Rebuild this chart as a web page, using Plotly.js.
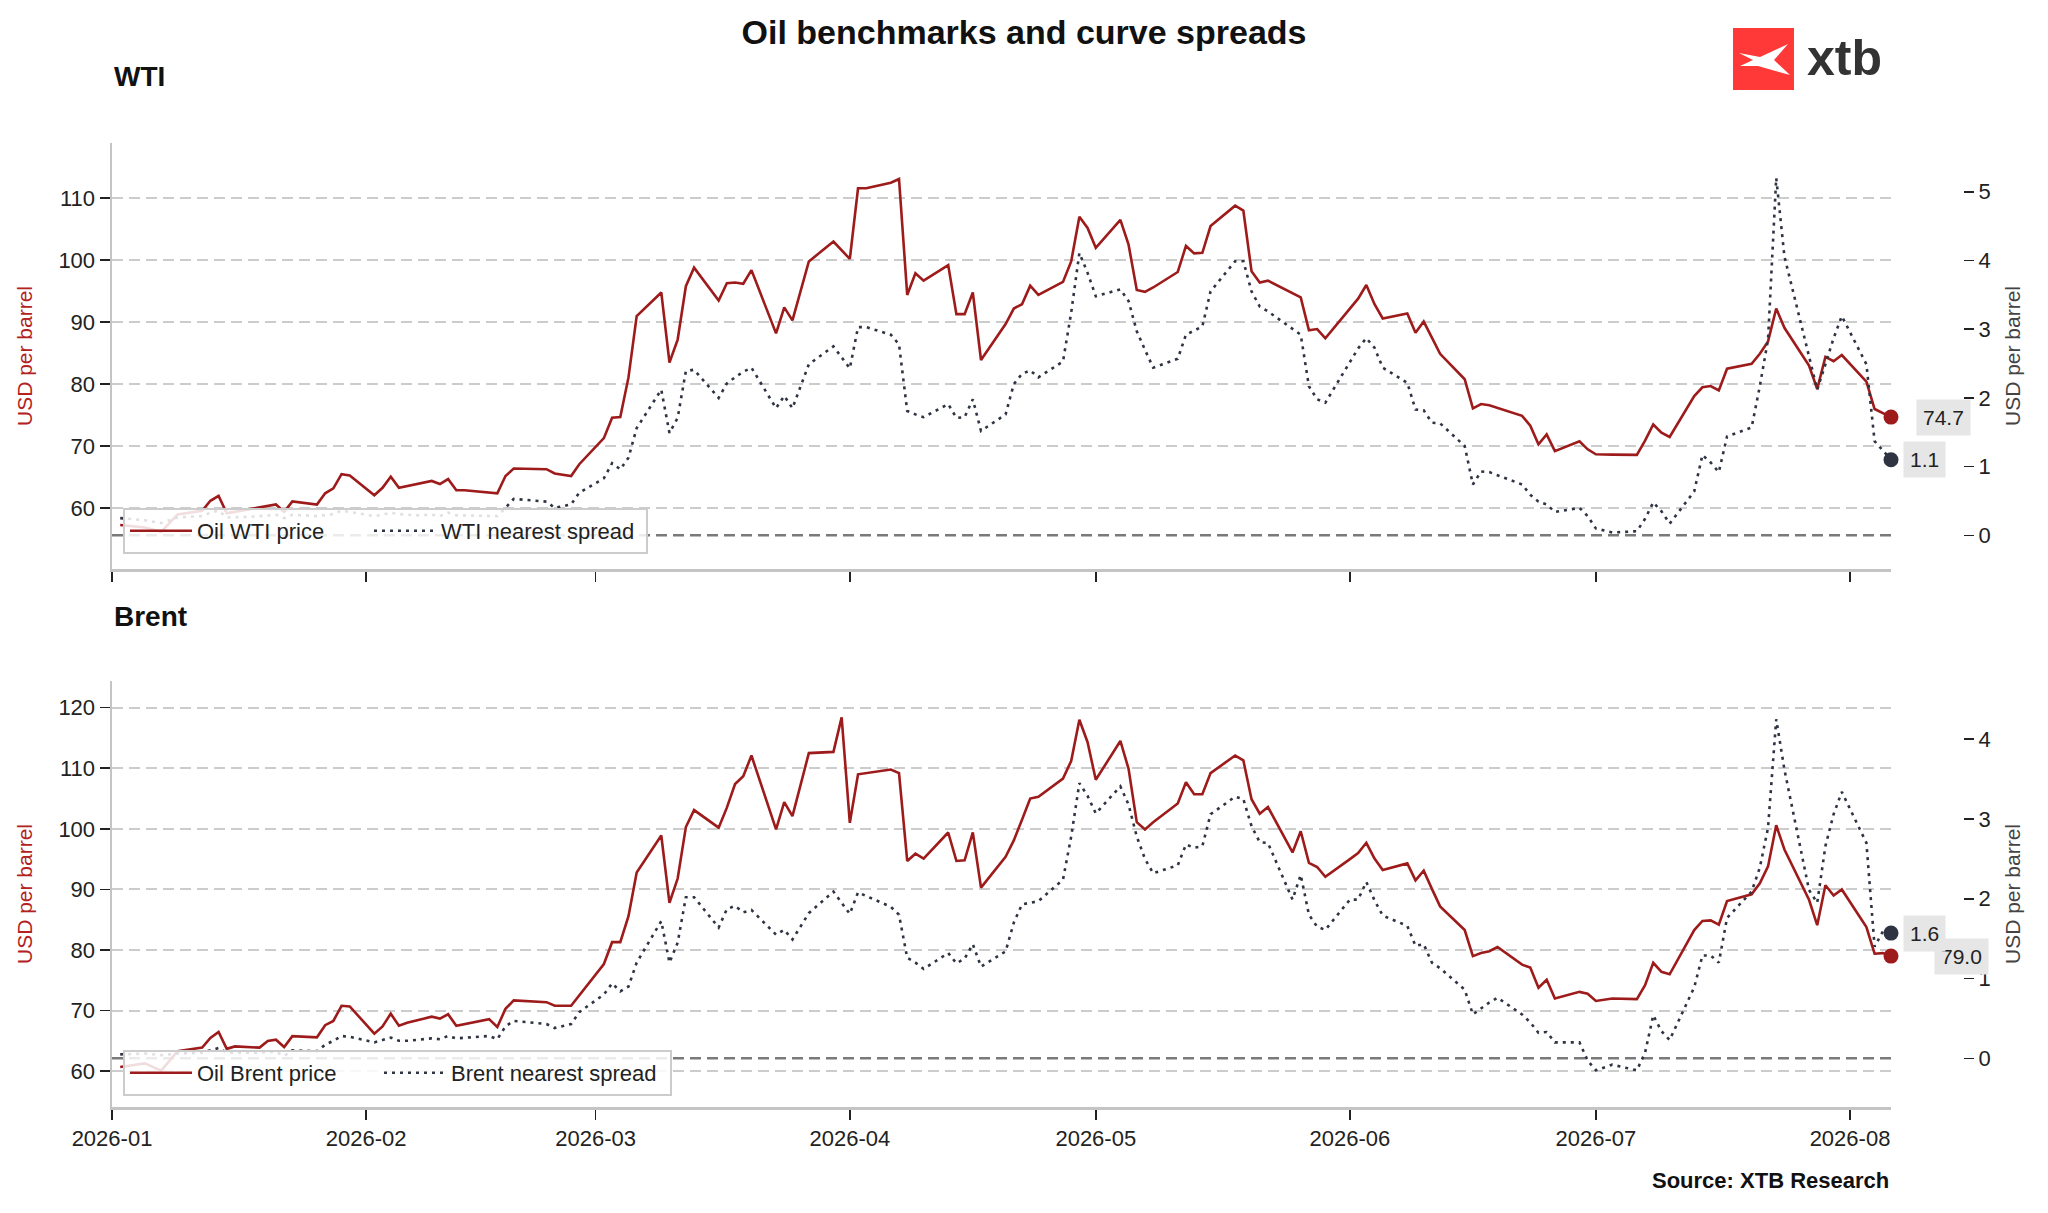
<!DOCTYPE html>
<html>
<head>
<meta charset="utf-8">
<script src="https://cdn.plot.ly/plotly-3.0.1.min.js"></script>
<style>
  html, body { margin: 0; padding: 0; background: #fff; }
  #chart { width: 2048px; height: 1213px; }
</style>
</head>
<body>
<div id="chart"></div>
<script>
// ---- data (2026, business days) ----
const wtiDays = [
  '01-02','01-05','01-07','01-09','01-12','01-13','01-14','01-15','01-18','01-21','01-22','01-23','01-26','01-27','01-28','01-29','01-30',
  '02-02','02-03','02-04','02-05','02-07','02-09','02-10','02-11','02-12','02-13','02-17','02-18','02-19','02-23','02-24','02-26','02-27',
  '03-02','03-03','03-04','03-05','03-06','03-09','03-10','03-11','03-12','03-13','03-16','03-17','03-18','03-19','03-20','03-23','03-24','03-25','03-27','03-30',
  '04-01','04-02','04-03','04-06','04-07','04-08','04-09','04-10','04-13','04-14','04-15','04-16','04-17','04-20','04-21','04-22','04-23','04-24','04-27','04-28','04-29','04-30',
  '05-01','05-04','05-05','05-06','05-07','05-08','05-11','05-12','05-13','05-14','05-15','05-18','05-19','05-20','05-21','05-22','05-26','05-27','05-28','05-29',
  '06-02','06-03','06-04','06-05','06-08','06-09','06-10','06-11','06-12','06-15','06-16','06-17','06-18','06-22','06-23','06-24','06-25','06-26','06-29','06-30',
  '07-01','07-03','07-06','07-07','07-08','07-09','07-10','07-13','07-14','07-15','07-16','07-17','07-20','07-21','07-22','07-23','07-24','07-27','07-28','07-29','07-30','07-31',
  '08-03','08-04','08-06'
]
const wtiPrice = [
  57.3,56.9,56.2,59.0,59.6,61.2,62.0,59.2,59.9,60.6,59.4,61.1,60.6,62.4,63.2,65.5,65.3,
  62.1,63.3,65.1,63.3,63.9,64.4,63.9,64.7,62.9,62.9,62.4,65.2,66.4,66.3,65.6,65.2,67.1,
  71.3,74.6,74.7,81.1,91.0,94.8,83.5,87.2,95.8,98.8,93.5,96.3,96.4,96.2,98.4,88.2,92.4,90.3,99.8,103.0,
  100.2,111.6,111.6,112.5,113.1,94.4,97.9,96.7,99.2,91.3,91.3,94.8,83.9,89.7,92.2,92.9,95.9,94.4,96.5,99.8,107.0,105.2,
  102.0,106.5,102.5,95.2,94.9,95.6,98.1,102.3,101.1,101.2,105.5,108.8,108.0,98.2,96.4,96.7,94.0,88.7,88.9,87.4,
  93.8,96.0,92.9,90.6,91.4,88.3,90.1,87.5,84.9,80.8,76.1,76.8,76.6,74.9,73.3,70.3,71.9,69.2,70.8,69.5,
  68.7,68.65,68.6,70.9,73.5,72.2,71.5,78.1,79.5,79.7,79.0,82.5,83.3,84.9,86.9,92.2,89.1,83.0,79.2,84.4,83.7,84.7,
  80.4,76.0,74.7
]
const wtiSpread = [
  0.25,0.22,0.18,0.26,0.28,0.33,0.36,0.26,0.27,0.30,0.25,0.30,0.28,0.30,0.31,0.36,0.34,
  0.28,0.30,0.33,0.31,0.29,0.30,0.28,0.33,0.29,0.29,0.28,0.40,0.53,0.49,0.40,0.45,0.62,
  0.83,1.05,0.96,1.13,1.56,2.12,1.49,1.71,2.39,2.41,2.00,2.21,2.30,2.38,2.44,1.85,2.03,1.85,2.49,2.75,
  2.43,3.03,3.03,2.92,2.78,1.81,1.76,1.72,1.91,1.71,1.72,1.98,1.52,1.76,2.20,2.35,2.40,2.30,2.53,3.24,4.11,3.82,
  3.48,3.58,3.41,2.97,2.70,2.44,2.57,2.92,2.98,3.04,3.55,3.99,3.99,3.55,3.33,3.26,2.92,2.17,1.98,1.93,
  2.72,2.87,2.73,2.44,2.22,1.83,1.82,1.64,1.63,1.30,0.74,0.93,0.92,0.74,0.59,0.49,0.45,0.34,0.40,0.28,
  0.10,0.04,0.06,0.24,0.48,0.35,0.17,0.64,1.17,1.06,0.92,1.44,1.57,2.17,2.85,5.20,4.06,2.58,2.12,2.49,2.87,3.19,
  2.49,1.37,1.10
]

const brentDays = [
  '01-02','01-05','01-07','01-09','01-12','01-13','01-14','01-15','01-16','01-19','01-20','01-21','01-22','01-23','01-26','01-27','01-28','01-29','01-30',
  '02-02','02-03','02-04','02-05','02-06','02-09','02-10','02-11','02-12','02-16','02-17','02-18','02-19','02-23','02-24','02-26','02-27',
  '03-02','03-03','03-04','03-05','03-06','03-09','03-10','03-11','03-12','03-13','03-16','03-17','03-18','03-19','03-20','03-23','03-24','03-25','03-27','03-30','03-31',
  '04-01','04-02','04-06','04-07','04-08','04-09','04-10','04-13','04-14','04-15','04-16','04-17','04-20','04-21','04-22','04-23','04-24','04-27','04-28','04-29','04-30',
  '05-01','05-04','05-05','05-06','05-07','05-08','05-11','05-12','05-13','05-14','05-15','05-18','05-19','05-20','05-21','05-22','05-25','05-26','05-27','05-28','05-29',
  '06-01','06-02','06-03','06-04','06-05','06-08','06-09','06-10','06-11','06-12','06-15','06-16','06-17','06-18','06-19','06-22','06-23','06-24','06-25','06-26','06-29','06-30',
  '07-01','07-03','07-06','07-07','07-08','07-09','07-10','07-13','07-14','07-15','07-16','07-17','07-20','07-21','07-22','07-23','07-24','07-27','07-28','07-29','07-30','07-31',
  '08-03','08-04','08-05','08-06'
]
const brentPrice = [
  60.7,61.3,60.1,63.3,63.9,65.5,66.5,63.7,64.1,63.9,65.0,65.2,64.0,65.8,65.6,67.6,68.3,70.8,70.7,
  66.2,67.4,69.5,67.5,68.0,69.0,68.7,69.4,67.5,68.6,67.3,70.3,71.7,71.4,70.8,70.8,72.5,
  77.7,81.3,81.3,85.6,92.8,98.9,87.8,91.8,100.3,103.1,100.2,103.5,107.4,108.7,112.1,99.9,104.4,102.1,112.5,112.7,118.4,
  101.0,109.0,109.8,109.2,94.7,95.9,95.1,99.4,94.7,94.8,99.4,90.3,95.4,98.1,101.5,105.0,105.3,108.3,111.2,118.0,114.3,
  108.1,114.5,109.9,101.1,99.9,101.1,104.2,107.7,105.7,105.7,109.2,112.1,111.3,104.9,102.5,103.6,96.1,99.6,94.4,93.7,92.1,
  95.0,96.0,97.7,95.1,93.2,94.3,91.5,93.1,90.1,87.2,83.3,79.0,79.5,79.8,80.5,77.6,77.1,73.8,75.1,72.0,73.1,72.8,
  71.6,72.0,71.9,74.2,77.9,76.4,76.0,83.3,84.8,84.9,84.2,88.1,89.2,91.0,93.8,100.6,96.6,88.3,84.1,90.7,89.0,90.0,
  83.8,79.4,79.5,79.0
]
const brentSpread = [
  0.05,0.06,0.04,0.06,0.07,0.10,0.13,0.07,0.07,0.07,0.08,0.08,0.03,0.10,0.09,0.17,0.22,0.28,0.27,
  0.20,0.23,0.26,0.22,0.22,0.25,0.24,0.28,0.25,0.28,0.24,0.40,0.47,0.43,0.38,0.43,0.58,
  0.80,0.94,0.84,0.90,1.20,1.72,1.20,1.45,2.02,2.02,1.64,1.87,1.91,1.83,1.86,1.55,1.61,1.49,1.82,2.09,1.95,
  1.81,2.08,1.90,1.80,1.26,1.20,1.12,1.32,1.19,1.25,1.43,1.15,1.34,1.70,1.93,1.95,1.97,2.24,2.78,3.45,3.29,
  3.07,3.41,3.18,2.78,2.50,2.32,2.42,2.68,2.64,2.66,3.06,3.28,3.25,2.91,2.71,2.70,1.99,2.30,1.80,1.65,1.61,
  1.99,1.99,2.21,1.98,1.79,1.66,1.41,1.43,1.20,1.13,0.86,0.55,0.63,0.70,0.76,0.55,0.45,0.32,0.33,0.20,0.20,-0.03,
  -0.15,-0.08,-0.15,0.07,0.54,0.34,0.23,0.89,1.29,1.29,1.20,1.76,2.09,2.39,2.89,4.25,3.62,2.11,1.95,2.66,3.06,3.34,
  2.70,1.40,1.59,1.57
]

const priceTicks = [60, 70, 80, 90, 100, 110]
const brentTicks = [60, 70, 80, 90, 100, 110, 120]
const monthTicks = ['2026-01-01','2026-02-01','2026-03-01','2026-04-01','2026-05-01','2026-06-01','2026-07-01','2026-08-01']
const monthLabels = ['2026-01','2026-02','2026-03','2026-04','2026-05','2026-06','2026-07','2026-08']

// ---- page geometry ----
const W = 2048, H = 1213
const M = { l: 112, r: 85, t: 143, b: 106 }
const px = x => (x - M.l) / (W - M.l - M.r)
const py = y => (H - M.b - y) / (H - M.t - M.b)
const xEnd = px(1891)

const FONT = 'Liberation Sans, Arial, sans-serif'
const RED = '#9e1b1b'
const NAVY = '#2e3442'
const GRID = '#cccccc'
const SPINE = '#c4c4c4'

const wtiX = wtiDays.map(d => '2026-' + d)
const brentX = brentDays.map(d => '2026-' + d)
const last = a => a[a.length - 1]

const traces = [
  { x: wtiX, y: wtiPrice, xaxis: 'x', yaxis: 'y', name: 'Oil WTI price', legend: 'legend', legendwidth: 167,
    type: 'scatter', mode: 'lines', line: { color: RED, width: 2.6 } },
  { x: wtiX, y: wtiSpread, xaxis: 'x', yaxis: 'y2', name: 'WTI nearest spread', legend: 'legend', legendwidth: 200,
    type: 'scatter', mode: 'lines', line: { color: NAVY, width: 2.6, dash: '3px,5px' } },
  { x: brentX, y: brentPrice, xaxis: 'x2', yaxis: 'y3', name: 'Oil Brent price', legend: 'legend2', legendwidth: 177,
    type: 'scatter', mode: 'lines', line: { color: RED, width: 2.6 } },
  { x: brentX, y: brentSpread, xaxis: 'x2', yaxis: 'y4', name: 'Brent nearest spread', legend: 'legend2', legendwidth: 214,
    type: 'scatter', mode: 'lines', line: { color: NAVY, width: 2.6, dash: '3px,5px' } },
  // end-point dots
  { x: [last(wtiX)], y: [last(wtiPrice)], xaxis: 'x', yaxis: 'y', showlegend: false, cliponaxis: false,
    type: 'scatter', mode: 'markers', marker: { color: RED, size: 15 } },
  { x: [last(wtiX)], y: [last(wtiSpread)], xaxis: 'x', yaxis: 'y2', showlegend: false, cliponaxis: false,
    type: 'scatter', mode: 'markers', marker: { color: NAVY, size: 15 } },
  { x: [last(brentX)], y: [last(brentPrice)], xaxis: 'x2', yaxis: 'y3', showlegend: false, cliponaxis: false,
    type: 'scatter', mode: 'markers', marker: { color: RED, size: 15 } },
  { x: [last(brentX)], y: [last(brentSpread)], xaxis: 'x2', yaxis: 'y4', showlegend: false, cliponaxis: false,
    type: 'scatter', mode: 'markers', marker: { color: NAVY, size: 15 } }
]

const tickFont = { family: FONT, size: 22, color: '#222' }

function xAxis(anchor, labels) {
  return {
    domain: [0, xEnd], anchor: anchor, type: 'date',
    range: ['2026-01-01', '2026-08-06'],
    tickvals: monthTicks, ticktext: monthLabels, showticklabels: labels,
    ticks: 'outside', ticklen: 10, tickwidth: 1.6, tickcolor: '#222',
    showline: true, linecolor: SPINE, linewidth: 2.5,
    showgrid: false, zeroline: false, tickfont: tickFont, fixedrange: true
  }
}
function leftAxis(domain, anchor, range, ticks) {
  return {
    domain: domain, anchor: anchor, range: range, tickvals: ticks,
    showgrid: true, gridcolor: GRID, gridwidth: 2, griddash: '11px,6px',
    showline: true, linecolor: SPINE, linewidth: 2.5,
    ticks: 'outside', ticklen: 10, tickwidth: 1.6, tickcolor: '#222',
    zeroline: false, tickfont: tickFont,
    title: { text: 'USD per barrel', font: { family: FONT, size: 21, color: '#b22222' }, standoff: 20 }
  }
}
function rightAxis(over, range, ticks) {
  return {
    overlaying: over, side: 'right', anchor: 'free', position: 1,
    range: range, tickvals: ticks, showgrid: false, showline: false, zeroline: false,
    ticks: 'outside', ticklen: 10, tickwidth: 1.6, tickcolor: '#222', tickfont: tickFont,
    title: { text: 'USD per barrel', font: { family: FONT, size: 21, color: '#444' }, standoff: 15 }
  }
}

const legendBase = {
  orientation: 'h', xanchor: 'left', yanchor: 'bottom',
  bgcolor: 'rgba(255,255,255,0.85)', bordercolor: '#cccccc', borderwidth: 2,
  font: { family: FONT, size: 22, color: '#222' }, itemwidth: 62, entrywidthmode: 'pixels'
}

function valueLabel(xref, yref, x, y, shift) {
  return {
    xref: xref, yref: yref, x: x, y: y, xanchor: 'left', yanchor: 'middle', xshift: shift,
    text: y.toFixed(1), showarrow: false, bgcolor: '#e6e6e6', borderpad: 6,
    font: { family: FONT, size: 21, color: '#222' }
  }
}

// xtb logo mark
const logoPts = [[1739,53],[1760,57],[1788,44],[1774,60],[1790,75],[1758,66],[1740,66],[1753,60]]
const logoPath = 'M ' + logoPts.map(p => px(p[0]) + ',' + py(p[1])).join(' L ') + ' Z'

const layout = {
  width: W, height: H, margin: M,
  paper_bgcolor: '#fff', plot_bgcolor: '#fff',
  font: { family: FONT, color: '#222' },
  title: { text: '<b>Oil benchmarks and curve spreads</b>', font: { family: FONT, size: 34, color: '#111' },
    x: 0.5, xref: 'container', xanchor: 'center', y: 1 - 32 / H, yref: 'container', yanchor: 'middle' },
  xaxis: xAxis('y', false),
  xaxis2: xAxis('y3', true),
  yaxis: leftAxis([py(569), 1], 'x', [50.2, 118.9], priceTicks),
  yaxis2: rightAxis('y', [-0.49, 5.71], [0, 1, 2, 3, 4, 5]),
  yaxis3: leftAxis([0, py(681)], 'x2', [54.1, 124.4], brentTicks),
  yaxis4: rightAxis('y3', [-0.61, 4.73], [0, 1, 2, 3, 4]),
  legend: Object.assign({ x: px(123), y: py(554) }, legendBase),
  legend2: Object.assign({ x: px(123), y: py(1096) }, legendBase),
  showlegend: true,
  shapes: [
    { type: 'line', xref: 'x domain', x0: 0, x1: 1, yref: 'y2', y0: 0, y1: 0, layer: 'below',
      line: { color: '#7a7a7a', width: 2.5, dash: '11px,6px' } },
    { type: 'line', xref: 'x2 domain', x0: 0, x1: 1, yref: 'y4', y0: 0, y1: 0, layer: 'below',
      line: { color: '#7a7a7a', width: 2.5, dash: '11px,6px' } },
    { type: 'rect', xref: 'paper', yref: 'paper', x0: px(1733), x1: px(1794), y0: py(90), y1: py(28),
      fillcolor: '#ff3838', line: { width: 0 } },
    { type: 'path', xref: 'paper', yref: 'paper', path: logoPath, fillcolor: '#ffffff', line: { width: 0 } }
  ],
  annotations: [
    { xref: 'paper', yref: 'paper', x: px(112), y: py(76), xanchor: 'left', yanchor: 'middle',
      text: '<b>WTI</b>', showarrow: false, font: { family: FONT, size: 28, color: '#111' } },
    { xref: 'paper', yref: 'paper', x: px(112), y: py(616), xanchor: 'left', yanchor: 'middle',
      text: '<b>Brent</b>', showarrow: false, font: { family: FONT, size: 28, color: '#111' } },
    { xref: 'paper', yref: 'paper', x: px(1891), y: py(1180), xanchor: 'right', yanchor: 'middle',
      text: '<b>Source: XTB Research</b>', showarrow: false, font: { family: FONT, size: 22, color: '#111' } },
    { xref: 'paper', yref: 'paper', x: px(1805), y: py(58), xanchor: 'left', yanchor: 'middle',
      text: '<b>xtb</b>', showarrow: false, font: { family: FONT, size: 50, color: '#333' } },
    valueLabel('x', 'y', last(wtiX), last(wtiPrice), 25),
    valueLabel('x', 'y2', last(wtiX), last(wtiSpread), 12),
    valueLabel('x2', 'y3', last(brentX), last(brentPrice), 43),
    valueLabel('x2', 'y4', last(brentX), last(brentSpread), 12)
  ]
}

Plotly.newPlot('chart', traces, layout, { staticPlot: true, displayModeBar: false })
</script>
</body>
</html>
